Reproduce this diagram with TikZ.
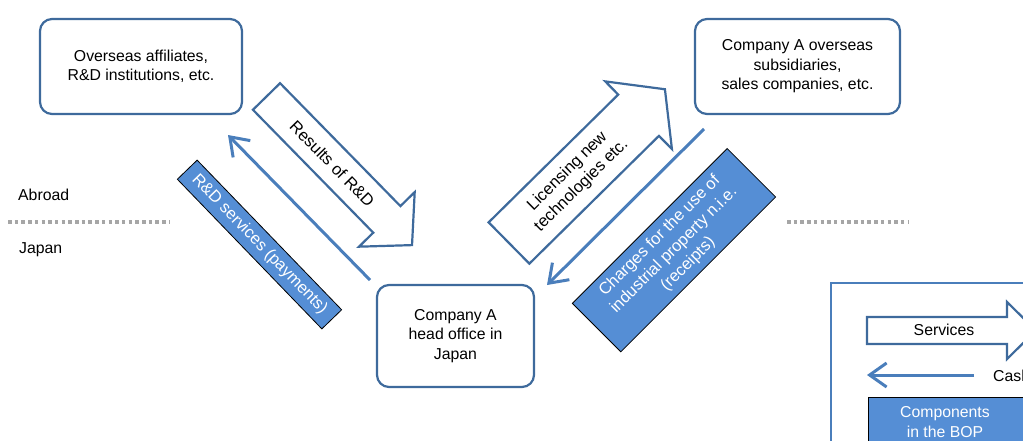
\documentclass[tikz,border=0pt]{standalone}
\usepackage{fontspec}
\setmainfont{Liberation Sans}
\usetikzlibrary{arrows.meta}
\definecolor{boxline}{HTML}{3E6A9C}
\definecolor{thinblue}{HTML}{4A7EBB}
\definecolor{fillblue}{HTML}{558ED5}
\definecolor{dotgray}{HTML}{A6A6A6}
\tikzset{
  entity/.style={draw=boxline, line width=2.2pt, rounded corners=12pt, fill=white, align=center, inner sep=0pt},
  blockarrow/.style={draw=boxline, line width=2.2pt, fill=white, line join=miter},
  cashline/.style={draw=thinblue, line width=3pt, -{Straight Barb[length=17pt,width=24pt]}},
  bopbox/.style={draw=black, line width=0.8pt, fill=fillblue, text=white, align=center, inner sep=0pt},
  divider/.style={draw=dotgray, line width=3.5pt, dash pattern=on 3.5pt off 3.2pt},
  plain/.style={text=black, inner sep=0pt, align=center},
  bigtext/.style={font=\fontsize{16.5}{20}\selectfont},
  legendframe/.style={draw=thinblue, line width=1.3pt}
}
\begin{document}
\begin{tikzpicture}[x=1pt,y=-1pt,font=\fontsize{15.8}{19.5}\selectfont]
\useasboundingbox (0,0) rectangle (1023,440);

% region labels and dividers
\node[plain, anchor=west] (abroad) at (18,195) {Abroad};
\node[plain, anchor=west] (japan) at (19,250) {Japan};
\coordinate (dl1) at (8,222);
\coordinate (dl2) at (170,222);
\coordinate (dr1) at (787,222);
\coordinate (dr2) at (908,222);
\draw[divider] (dl1) -- (dl2);
\draw[divider] (dr1) -- (dr2);

% entities
\node[entity, minimum width=202pt, minimum height=95pt] (aff) at (141,66.5)
  {Overseas affiliates,\\R\&D institutions, etc.};
\node[entity, minimum width=205pt, minimum height=95pt] (subs) at (797.5,66.5)
  {Company A overseas\\subsidiaries,\\sales companies, etc.};
\node[entity, minimum width=157pt, minimum height=102pt] (head) at (455.5,336)
  {Company A\\head office in\\Japan};

% block arrow: Results of R&D
\begin{scope}[shift={(266.5,96.5)}, rotate=-45.6]
  \draw[blockarrow] (0,-19) -- (172,-19) -- (172,-39) -- (208,0) -- (172,39) -- (172,19) -- (0,19) -- cycle;
  \node[plain, bigtext, rotate=-45.6] (resrd) at (94,0) {Results of R\&D};
\end{scope}

% block arrow: Licensing new technologies etc.
\begin{scope}[shift={(509,243)}, rotate=44.6]
  \draw[blockarrow] (0,-29) -- (182,-29) -- (182,-47.5) -- (219,0) -- (182,47.5) -- (182,29) -- (0,29) -- cycle;
  \node[plain, bigtext, rotate=44.6] (lic) at (92,0) {Licensing new\\technologies etc.};
\end{scope}

% cash flows
\coordinate (c1s) at (370,280);
\coordinate (c1e) at (228,135);
\coordinate (c2s) at (704,129);
\coordinate (c2e) at (547,285);
\draw[cashline] (c1s) -- (c1e);
\draw[cashline] (c2s) -- (c2e);

% BOP components
\node[bopbox, bigtext, minimum width=208pt, minimum height=27.5pt, rotate=-46] (rdserv) at (259.5,244.5)
  {R\&D services (payments)};
\node[bopbox, bigtext, minimum width=219pt, minimum height=68.5pt, rotate=45] (charges) at (674,250.2)
  {Charges for the use of\\industrial property n.i.e.\\(receipts)};

% legend
\draw[legendframe] (1045,283) -- (831,283) -- (831,460);
\draw[blockarrow] (867,317) -- (1007,317) -- (1007,302) -- (1036,330.5) -- (1007,359) -- (1007,344) -- (867,344) -- cycle;
\node[plain] (lserv) at (944,330) {Services};
\coordinate (lcs) at (974,375);
\coordinate (lce) at (867,375);
\draw[cashline] (lcs) -- (lce);
\node[plain, anchor=west] (lcash) at (993,376) {Cash};
\node[bopbox, minimum width=180pt, minimum height=70pt, anchor=north west] (lbop) at (868,397) {};
\node[plain, text=white] (lboptext) at (945,422) {Components\\in the BOP};
\end{tikzpicture}
\end{document}
